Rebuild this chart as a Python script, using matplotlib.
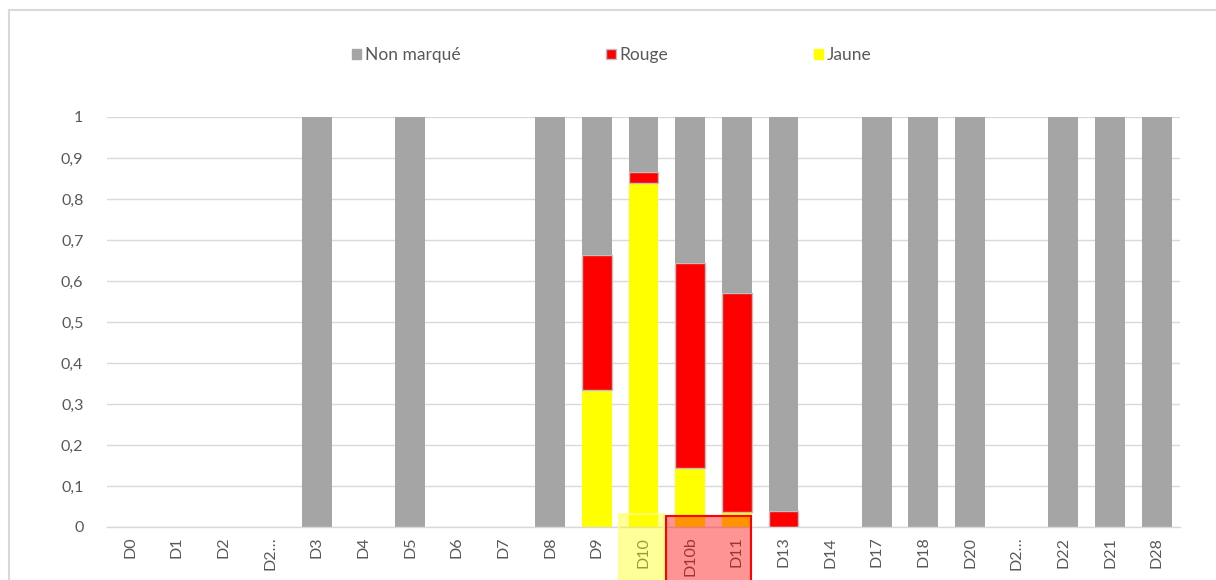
import numpy as np
import matplotlib.pyplot as plt
from matplotlib.patches import Rectangle, Patch
from matplotlib.lines import Line2D

plt.rcParams['font.family'] = ['Lato', 'DejaVu Sans']

categories = ['D0', 'D1', 'D2', 'D2…', 'D3', 'D4', 'D5', 'D6', 'D7', 'D8', 'D9',
              'D10', 'D10b', 'D11', 'D13', 'D14', 'D17', 'D18', 'D20', 'D2…',
              'D22', 'D21', 'D28']
jaune = [0, 0, 0, 0, 0, 0, 0, 0, 0, 0, 0.333,
         0.838, 0.143, 0.036, 0, 0, 0, 0, 0, 0,
         0, 0, 0]
rouge = [0, 0, 0, 0, 0, 0, 0, 0, 0, 0, 0.331,
         0.027, 0.500, 0.535, 0.040, 0, 0, 0, 0, 0,
         0, 0, 0]
non_marque = [0, 0, 0, 0, 1, 0, 1, 0, 0, 1, 0.336,
              0.135, 0.357, 0.429, 0.960, 0, 1, 1, 1, 0,
              1, 1, 1]

grey = '#a5a5a5'
txt = '#595959'
x = np.arange(len(categories))
w = 0.64

fig = plt.figure(figsize=(12.16, 5.8), dpi=100)
ax = fig.add_axes([107 / 1216, 1 - 527 / 580, 1073 / 1216, 410 / 580])

j = np.array(jaune)
r = np.array(rouge)
n = np.array(non_marque)
ax.bar(x, j, w, color='#ffff00', zorder=2)
ax.bar(x, r, w, bottom=j, color='#ff0000', edgecolor=np.where(r > 0, '#bfbfbf', 'none'),
       linewidth=1, zorder=2)
ax.bar(x, n, w, bottom=j + r, color=grey, zorder=2)

ax.set_xlim(-0.5, len(categories) - 0.5)
ax.set_ylim(0, 1)
ax.set_yticks(np.arange(0, 1.01, 0.1))
ax.set_yticklabels(['0'] + [f'0,{i}' for i in range(1, 10)] + ['1'])
ax.yaxis.grid(True, color='#d9d9d9', linewidth=1, zorder=0)
ax.set_axisbelow(True)
for s in ['top', 'right', 'left']:
    ax.spines[s].set_visible(False)
ax.spines['bottom'].set_color('#d9d9d9')
ax.spines['bottom'].set_linewidth(1)
ax.set_xticks(x)
ax.set_xticklabels(categories, rotation=90)
ax.tick_params(axis='both', length=0, colors=txt, labelsize=11.5)
ax.tick_params(axis='y', pad=17)
ax.tick_params(axis='x', pad=7)

# highlight boxes over D10 and D10b/D11
ax.add_patch(Rectangle((11 - 0.52, -0.2), 0.97, 0.232, facecolor=(1, 1, 0, 0.4),
                       edgecolor='#ffff80', linewidth=1.2, clip_on=False, zorder=5))
ax.add_patch(Rectangle((12 - 0.51, -0.2), 1.82, 0.227, facecolor=(1, 0, 0, 0.42),
                       edgecolor='#ff0000', linewidth=1.5, clip_on=False, zorder=5))

handles = [Patch(facecolor=grey, edgecolor=grey, label='Non marqué'),
           Patch(facecolor='#ff0000', edgecolor='#bfbfbf', label='Rouge'),
           Patch(facecolor='#ffff00', edgecolor='#ffff00', label='Jaune')]
fig.legend(handles=handles, loc='center', bbox_to_anchor=(0.503, 1 - 55 / 580), ncol=3,
           frameon=False, fontsize=12.5, labelcolor=txt, handlelength=0.55, handleheight=0.55,
           handletextpad=0.2, columnspacing=8.4)

# chart outer border
fig.add_artist(Line2D([9 / 1216, 1], [1 - 10 / 580, 1 - 10 / 580], transform=fig.transFigure,
                      color='#d9d9d9', linewidth=1.5))
fig.add_artist(Line2D([9 / 1216, 9 / 1216], [0, 1 - 10 / 580], transform=fig.transFigure,
                      color='#d9d9d9', linewidth=1.5))

fig.savefig('out.png', dpi=100)
